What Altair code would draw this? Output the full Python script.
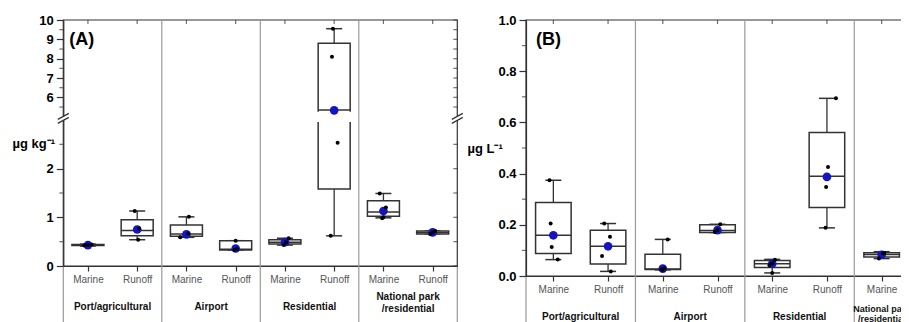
import altair as alt
import pandas as pd

FONT = "Liberation Sans"
DARK = "#333333"
GRAY = "#9a9a9a"

groups = ["Port/agricultural", "Airport", "Residential", "National park\n/residential"]
types = ["Marine", "Runoff"]

# ---------------- Panel A : µg kg-1 (sediment) ----------------
a_group = [0, 0, 1, 1, 2, 2, 3, 3]
a_type = [0, 1, 0, 1, 0, 1, 0, 1]
a_wlo = [0.41, 0.54, 0.59, 0.33, 0.43, 0.62, 0.99, 0.66]
a_q1 = [0.42, 0.62, 0.61, 0.33, 0.45, 1.58, 1.02, 0.66]
a_med = [0.43, 0.73, 0.66, 0.345, 0.49, 5.35, 1.11, 0.69]
a_q3 = [0.44, 0.95, 0.84, 0.52, 0.54, 8.80, 1.34, 0.72]
a_whi = [0.45, 1.13, 1.01, 0.52, 0.57, 9.55, 1.49, 0.72]
a_mean = [0.43, 0.75, 0.65, 0.36, 0.49, 5.33, 1.13, 0.69]
a_pts = [[0.42, 0.43, 0.44], [1.13, 0.77, 0.54], [1.01, 0.67, 0.59], [0.52, 0.35, 0.33],
         [0.57, 0.49, 0.43], [9.55, 8.10, 2.53, 0.62], [1.49, 1.20, 1.00, 0.98], [0.72, 0.69, 0.66]]
a_jit = [[-0.15, 0.0, 0.15], [-0.1, 0.08, 0.04], [0.1, 0.08, -0.25], [0.0, 0.05, -0.05],
         [0.15, 0.05, -0.05], [-0.05, -0.09, 0.14, -0.14], [-0.15, 0.1, 0.0, -0.05], [0.1, 0.0, -0.1]]
a_break = [3, 5]
a_major = [0, 1, 2, 6, 7, 8, 9, 10]
a_minor = [0.5, 1.5, 2.5, 5.5, 6.5, 7.5, 8.5, 9.5]

# ---------------- Panel B : µg L-1 (water) ----------------
b_group = [0, 0, 1, 1, 2, 2, 3]
b_type = [0, 1, 0, 1, 0, 1, 0]
b_wlo = [0.064, 0.018, 0.024, 0.170, 0.012, 0.188, 0.068]
b_q1 = [0.088, 0.047, 0.025, 0.170, 0.033, 0.268, 0.074]
b_med = [0.159, 0.116, 0.027, 0.178, 0.048, 0.390, 0.084]
b_q3 = [0.287, 0.179, 0.085, 0.200, 0.061, 0.561, 0.091]
b_whi = [0.374, 0.205, 0.143, 0.202, 0.065, 0.694, 0.095]
b_mean = [0.159, 0.116, 0.029, 0.179, 0.048, 0.387, 0.083]
b_pts = [[0.374, 0.205, 0.113, 0.064], [0.205, 0.153, 0.078, 0.018], [0.143, 0.030, 0.025, 0.024],
         [0.202, 0.180, 0.172], [0.063, 0.050, 0.042, 0.012], [0.694, 0.426, 0.348, 0.188],
         [0.090, 0.088, 0.068]]
b_jit = [[-0.14, -0.1, -0.06, 0.16], [-0.14, 0.07, -0.22, 0.1], [0.18, 0.06, -0.05, 0.0],
         [0.1, 0.0, -0.1], [0.1, 0.0, -0.1, 0.0], [0.33, 0.04, -0.03, -0.05], [0.1, 0.05, -0.1]]
b_major = [0.0, 0.2, 0.4, 0.6, 0.8, 1.0]
b_minor = [0.1, 0.3, 0.5, 0.7, 0.9]

HALF = 0.65
W, H = 893, 314   # drawing surface inside the page's 8px margins


def panel(grp, typ, wlo, q1, med, q3, whi, mean, pts, jit, xrange, ydom, yrange,
          major, minor, yfmt, ytitle, tx, ty, letter, lx, ml_off, ml_lh, ml_fs, brk=None):
    pos = [4 * g + 1 + 2 * t for g, t in zip(grp, typ)]
    box = pd.DataFrame(dict(pos=pos, wlo=wlo, q1=q1, med=med, q3=q3, whi=whi, mean=mean))
    box["lo"] = box["pos"] - HALF
    box["hi"] = box["pos"] + HALF
    rows = []
    for p, vs, js in zip(pos, pts, jit):
        for v, j in zip(vs, js):
            rows.append({"x": p + j, "v": v})
    pt = pd.DataFrame(rows)
    ng = max(grp) + 1
    xmax = max(pos) + 1
    y0, y1 = ydom[0], ydom[-1]
    centers = [sum(p for p, g in zip(pos, grp) if g == k) / grp.count(k) for k in range(ng)]
    lab = pd.DataFrame({"c": centers, "label": groups[:ng], "y": y0})
    multi = lab["label"].str.contains("\n")
    lab1, lab2 = lab[~multi], lab[multi]
    inner = pd.DataFrame({"x": [4 * k for k in range(1, ng)], "y": y1})
    edges = pd.DataFrame({"x": [0, xmax], "y": y0})
    frame = pd.DataFrame({"x": [0], "x2": [xmax], "y": [y0], "y2": [y1]})
    tpos = pd.DataFrame({"pos": sorted(pos), "y": y1})
    minor_df = pd.DataFrame({"x": 0, "v": minor})
    right_df = pd.DataFrame({"x": xmax, "v": sorted(major + minor)})
    let_df = pd.DataFrame({"t": [letter], "x": [0], "y": [y1]})

    xs = alt.Scale(domain=[0, xmax], range=xrange, nice=False, zero=False)
    ys = alt.Scale(domain=ydom, range=yrange, nice=False, zero=False)
    xaxis = alt.Axis(values=sorted(pos), title=None, orient="bottom", offset=yrange[0] - H,
                     labelExpr=f"datum.value % 4 == 1 ? '{types[0]}' : '{types[1]}'",
                     tickSize=5, labelPadding=3, labelFontSize=10, labelColor="#555555",
                     labelFont=FONT, grid=False, domainColor=DARK, tickColor=DARK,
                     domainWidth=1.2, tickWidth=1.2)
    yaxis = alt.Axis(values=major, format=yfmt, title=ytitle, orient="left", offset=-xrange[0],
                     titleAngle=0, titleAlign="left",
                     titleBaseline="middle", titleX=tx, titleY=ty, titleFontSize=13,
                     titleFontWeight="bold", titleFont=FONT, titleColor="black",
                     tickSize=7, labelPadding=3, labelFontSize=13, labelFontWeight="bold",
                     labelColor="black", labelFont=FONT, grid=False, domainColor=DARK,
                     tickColor=DARK, domainWidth=1.2, tickWidth=1.2)

    def X(f):
        return alt.X(f, type="quantitative", scale=xs, axis=xaxis)

    def Y(f):
        return alt.Y(f, type="quantitative", scale=ys, axis=yaxis)

    L = []
    L.append(alt.Chart(frame).mark_rect(fillOpacity=0, stroke=DARK, strokeWidth=1.2).encode(
        x=X("x"), x2=alt.X2("x2"), y=Y("y"), y2=alt.Y2("y2")))
    L.append(alt.Chart(inner).mark_rule(color=GRAY, strokeWidth=1.2).encode(
        x=X("x"), y=Y("y"), y2=alt.value(H)))
    L.append(alt.Chart(edges).mark_rule(color=GRAY, strokeWidth=1.2, yOffset=1).encode(
        x=X("x"), y=Y("y"), y2=alt.value(H)))
    L.append(alt.Chart(box).mark_rule(color=DARK, strokeWidth=1.3).encode(
        x=X("pos"), y=Y("wlo"), y2=alt.Y2("whi")))
    for f in ["wlo", "whi"]:
        L.append(alt.Chart(box).mark_tick(orient="horizontal", size=16, thickness=1.5,
                                          color=DARK, opacity=1).encode(x=X("pos"), y=Y(f)))
    L.append(alt.Chart(box).mark_rect(fill="white", stroke=DARK, strokeWidth=1.5).encode(
        x=X("lo"), x2=alt.X2("hi"), y=Y("q1"), y2=alt.Y2("q3")))
    if brk:
        gap = box[(box["q1"] < brk[0]) & (box["q3"] > brk[1])].copy()
        gap["glo"] = gap["lo"] - 0.1
        gap["ghi"] = gap["hi"] + 0.1
        gap["b0"] = brk[0]
        gap["b1"] = brk[1]
        L.append(alt.Chart(gap).mark_rect(fill="white", yOffset=2, y2Offset=-5).encode(
            x=X("glo"), x2=alt.X2("ghi"), y=Y("b0"), y2=alt.Y2("b1")))
    L.append(alt.Chart(box).mark_rule(color=DARK, strokeWidth=1.5).encode(
        x=X("lo"), x2=alt.X2("hi"), y=Y("med")))
    L.append(alt.Chart(box).mark_circle(color="#1414c4", size=75, opacity=1).encode(
        x=X("pos"), y=Y("mean")))
    L.append(alt.Chart(pt).mark_circle(color="black", size=16, opacity=1).encode(
        x=X("x"), y=Y("v")))
    # inward ticks on top and right, minor ticks on left
    L.append(alt.Chart(tpos).mark_tick(orient="vertical", size=4, thickness=1.2, color=DARK, yOffset=2).encode(
        x=X("pos"), y=Y("y")))
    L.append(alt.Chart(right_df).mark_tick(orient="horizontal", size=4, thickness=1.2, color=DARK, xOffset=-2).encode(
        x=X("x"), y=Y("v")))
    L.append(alt.Chart(minor_df).mark_tick(orient="horizontal", size=4, thickness=1.2, color=DARK, xOffset=-2).encode(
        x=X("x"), y=Y("v")))
    if brk:
        bdf = pd.DataFrame({"x": [0, xmax], "v": [(brk[0] + brk[1]) / 2] * 2})
        L.append(alt.Chart(bdf).mark_rule(color="white", strokeWidth=4, yOffset=-2, y2Offset=2).encode(
            x=X("x"), y=Y("v"), y2=alt.Y2("v")))
        for a, b in [(5, -1), (1, -5)]:
            L.append(alt.Chart(bdf).mark_rule(color=DARK, strokeWidth=1.2, xOffset=-5.5, x2Offset=5.5,
                                              yOffset=a, y2Offset=b).encode(
                x=X("x"), x2=alt.X2("x"), y=Y("v"), y2=alt.Y2("v")))
    L.append(alt.Chart(let_df).mark_text(
        fontSize=18, fontWeight="bold", align="left", baseline="middle", font=FONT, color="black",
        xOffset=lx, yOffset=20).encode(text="t", x=X("x"), y=Y("y")))
    L.append(alt.Chart(lab1).mark_text(fontSize=10, fontWeight="bold", baseline="middle",
                                       align="center", color="#111111", font=FONT,
                                       yOffset=41).encode(
        x=X("c"), y=Y("y"), text="label"))
    L.append(alt.Chart(lab2).mark_text(fontSize=ml_fs, fontWeight="bold", lineBreak="\n", baseline="middle",
                                       align="center", color="#111111", font=FONT, lineHeight=ml_lh,
                                       yOffset=ml_off).encode(
        x=X("c"), y=Y("y"), text="label"))
    return alt.layer(*L)


pa = panel(a_group, a_type, a_wlo, a_q1, a_med, a_q3, a_whi, a_mean, a_pts, a_jit,
           [55.3, 449.3], [0, a_break[0], a_break[1], 10], [258, 112, 108.7, 12],
           a_major, a_minor, "d", "µg kg⁻¹", -51.3, 135, "(A)", 6, 31, 12, 10, brk=a_break)
pb = panel(b_group, b_type, b_wlo, b_q1, b_med, b_q3, b_whi, b_mean, b_pts, b_jit,
           [518, 901], [0, 1], [268, 12],
           b_major, b_minor, ".1f", "µg L⁻¹", -59, 140, "(B)", 10, 33, 10, 9)

chart = (alt.layer(pa, pb)
         .resolve_scale(x="independent", y="independent")
         .properties(width=W, height=H, padding=0,
                     autosize=alt.AutoSizeParams(type="none"))
         .configure(font=FONT)
         .configure_view(stroke=None))

chart.save("out.html", embed_options={"renderer": "svg", "actions": False})
